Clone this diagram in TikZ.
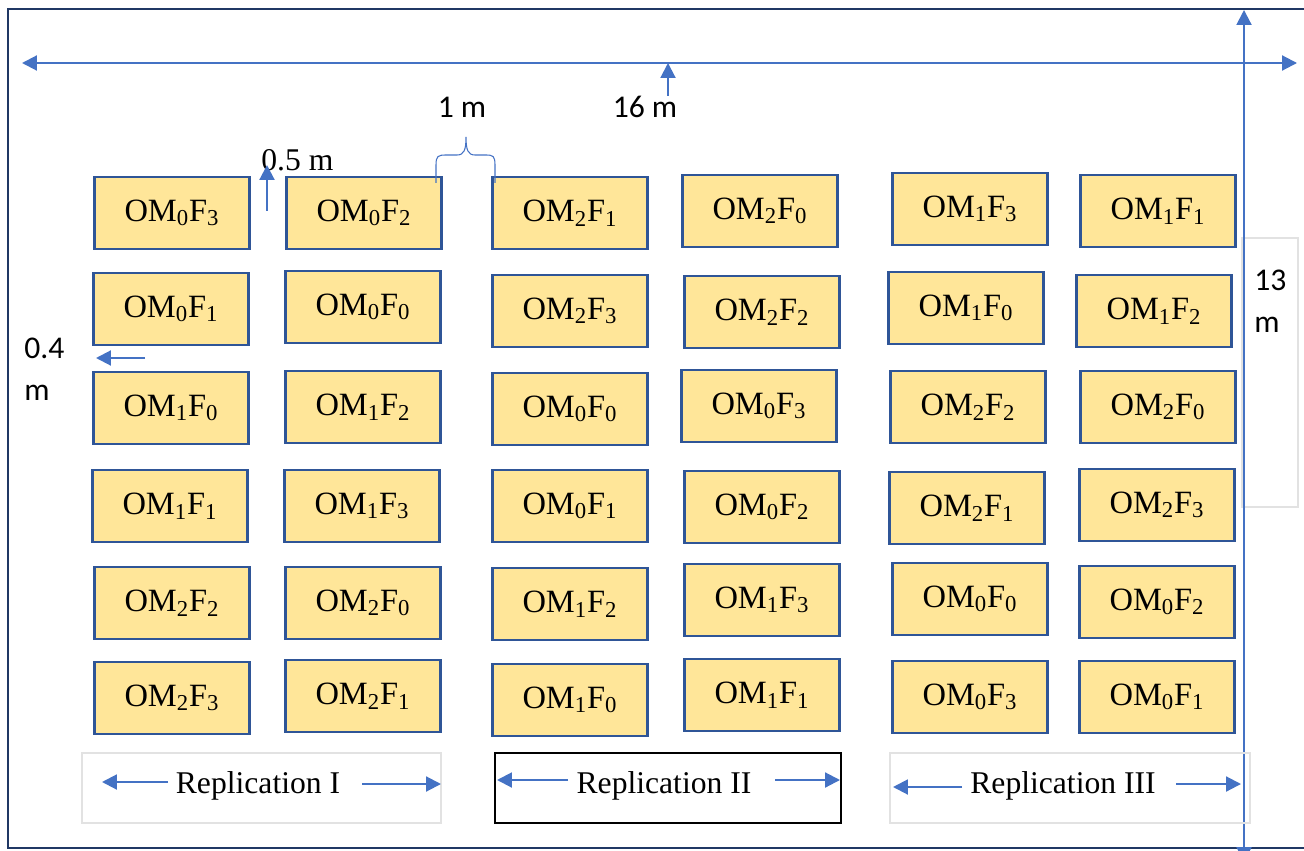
\documentclass[tikz,border=0pt]{standalone}
\usepackage{fontspec}
\setmainfont{Liberation Serif}
\newfontfamily\calibri{Carlito}
\usetikzlibrary{arrows.meta}
\definecolor{plotfill}{HTML}{FFE699}
\definecolor{plotedge}{HTML}{2F5597}
\definecolor{dimblue}{HTML}{4472C4}
\definecolor{framenavy}{HTML}{203864}
\definecolor{faintgray}{HTML}{E2E2E2}
\newcommand{\omf}[2]{OM\textsubscript{#1}F\textsubscript{#2}}
\tikzset{
  plotbox/.style={draw=plotedge, fill=plotfill, line width=1.3pt,
    minimum width=3.1cm, minimum height=1.44cm, inner sep=0pt,
    font=\fontsize{18.5}{20}\selectfont},
  dimarrow/.style={draw=dimblue, line width=1.2pt, -{Triangle[length=8.5pt,width=8.5pt]}},
  dimboth/.style={dimarrow, {Triangle[length=8.5pt,width=8.5pt]}-{Triangle[length=8.5pt,width=8.5pt]}},
  sanslabel/.style={font=\calibri\fontsize{18}{24}\selectfont, inner sep=0pt},
  seriflabel/.style={font=\fontsize{18}{20}\selectfont, inner sep=0pt},
}
\begin{document}
\begin{tikzpicture}
			[x=0.02cm, y=-0.02cm]
			\useasboundingbox (0,0) rectangle (1304,851);
			% field border
			\draw[framenavy, line width=1.5pt] (1330,9) -- (8,9) -- (8,848) -- (1330,848);
			% plots
			\foreach \n/\x/\y/\m/\f in {
				a1/172/213/0/3, a2/364/213/0/2, a3/570/213/2/1, a4/760/211/2/0, a5/970/209/1/3, a6/1158/211/1/1,
				b1/171/309/0/1, b2/363/307/0/0, b3/570/311/2/3, b4/762/312/2/2, b5/966/308/1/0, b6/1154/311/1/2,
				c1/171/408/1/0, c2/363/407/1/2, c3/570/409/0/0, c4/759/406/0/3, c5/968/407/2/2, c6/1158/407/2/0,
				d1/170/506/1/1, d2/362/506/1/3, d3/570/506/0/1, d4/762/507/0/2, d5/967/508/2/1, d6/1157/505/2/3,
				e1/172/603/2/2, e2/363/603/2/0, e3/570/604/1/2, e4/762/600/1/3, e5/970/599/0/0, e6/1157/602/0/2,
				f1/172/698/2/3, f2/363/696/2/1, f3/570/700/1/0, f4/762/695/1/1, f5/970/697/0/3, f6/1157/697/0/1}
				\node[plotbox] (\n) at (\x,\y) {\omf{\m}{\f}};
			% dimensions
			\draw[dimboth] (22,63) -- (1297,63);
			\draw[dimarrow] (668,96) -- (668,63);
			\node[sanslabel] (len) at (645,107) {16 m};
			\node[sanslabel] (gap) at (462,107) {1 m};
			\draw[dimblue, line width=0.6pt] (436,183) -- (436,165) .. controls (436,156) and (438,155) .. (446,155)
				-- (457,155) .. controls (464,155) and (466,150) .. (466,137)
				.. controls (466,150) and (468,155) .. (475,155) -- (486,155)
				.. controls (493,155) and (495,156) .. (495,165) -- (495,183);
			\node[seriflabel, anchor=west] (half) at (261,160) {0.5 m};
			\draw[dimarrow] (267,211) -- (267,165);
			\node[sanslabel, anchor=west, align=left] (path) at (24,369) {0.4\\m};
			\draw[dimarrow] (145,358) -- (96,358);
			\draw[faintgray, line width=0.6pt] (1242,238) rectangle (1298,507);
			\node[sanslabel, anchor=west, align=left] (wid) at (1254,301) {13\\m};
			\draw[dimboth] (1244,862) -- (1244,10);
			% replications
			\draw[faintgray, line width=0.6pt] (82,753) rectangle (441,823);
			\node[seriflabel] (rep1) at (258,786) {Replication I};
			\draw[dimarrow] (168,782) -- (102,782);
			\draw[dimarrow] (362,784) -- (441,784);
			\draw[black, line width=1.1pt] (495,753) rectangle (841,823);
			\node[seriflabel] (rep2) at (664,786) {Replication II};
			\draw[dimarrow] (568,780) -- (497,780);
			\draw[dimarrow] (775,780) -- (840,780);
			\draw[faintgray, line width=0.6pt] (890,753) rectangle (1250,823);
			\node[seriflabel] (rep3) at (1063,786) {Replication III};
			\draw[dimarrow] (962,787) -- (893,787);
			\draw[dimarrow] (1176,784) -- (1241,784);
			\end{tikzpicture}
\end{document}
